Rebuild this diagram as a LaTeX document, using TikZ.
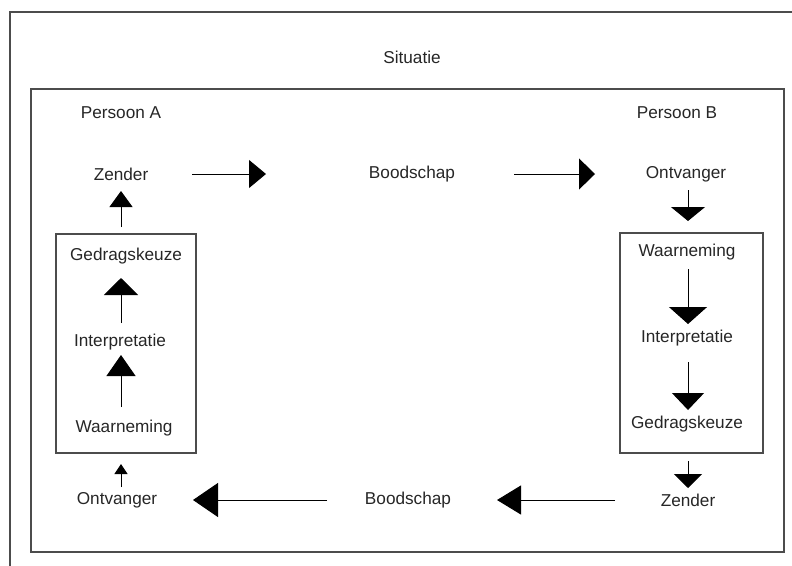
\documentclass[tikz,border=0pt]{standalone}
\usepackage{fontspec}
\setmainfont{Liberation Sans}
\usetikzlibrary{arrows.meta}
\tikzset{
  lbl/.style={inner sep=0pt, font=\fontsize{17.2}{19}\selectfont, text=black!85},
  kader/.style={draw=black!70, line width=1.4pt},
  pijl/.style args={#1/#2}{line width=1pt, -{Triangle[length=#1pt,width=#2pt]}}
}
\begin{document}
\begin{tikzpicture}[x=1pt,y=-1pt]
  \useasboundingbox (0,0) rectangle (792,565);
  \clip (0,0) rectangle (792,565);
  % kaders
  \draw[kader] (10,12) rectangle (800,575);
  \draw[kader] (31,89) rectangle (784,552);
  \draw[kader] (56,234) rectangle (196,453);
  \draw[kader] (620,233) rectangle (763,453);
  % teksten
  \node[lbl] (sit) at (412,57) {Situatie};
  \node[lbl] (pA) at (121,113) {Persoon A};
  \node[lbl] (pB) at (677,113) {Persoon B};
  \node[lbl] (zA) at (121,174) {Zender};
  \node[lbl] (bA) at (412,174) {Boodschap};
  \node[lbl] (oB) at (686,174) {Ontvanger};
  \node[lbl] (wB) at (687,252) {Waarneming};
  \node[lbl] (iB) at (687,338) {Interpretatie};
  \node[lbl] (gB) at (687,424) {Gedragskeuze};
  \node[lbl] (zB) at (688,500) {Zender};
  \node[lbl] (bB) at (408,500) {Boodschap};
  \node[lbl] (oA) at (117,500) {Ontvanger};
  \node[lbl] (wA) at (124,428) {Waarneming};
  \node[lbl] (iA) at (120,342) {Interpretatie};
  \node[lbl] (gA) at (126,256) {Gedragskeuze};
  % pijlen
  \draw[pijl=17/28, shorten <=71pt, shorten >=146pt] (zA.center) -- (bA.center);
  \draw[pijl=16/31, shorten <=102pt, shorten >=91pt] (bA.center) -- (oB.center);
  \draw[pijl=14/34, shorten <=16pt, shorten >=31pt] (oB.center -| zB.center) -- (wB.center -| zB.center);
  \draw[pijl=17/38, shorten <=17pt, shorten >=14pt] (wB.center -| zB.center) -- (iB.center -| zB.center);
  \draw[pijl=17/32, shorten <=24pt, shorten >=14pt] (iB.center -| zB.center) -- (gB.center -| zB.center);
  \draw[pijl=14/28, shorten <=37pt, shorten >=12pt] (gB.center -| zB.center) -- (zB.center);
  \draw[pijl=24/29, shorten <=73pt, shorten >=89pt] (zB.center) -- (bB.center);
  \draw[pijl=25/34, shorten <=81pt, shorten >=76pt] (bB.center) -- (oA.center);
  \draw[pijl=10/13, shorten <=13pt, shorten >=36pt] (oA.center -| zA.center) -- (wA.center -| zA.center);
  \draw[pijl=21/29, shorten <=21pt, shorten >=13pt] (wA.center -| zA.center) -- (iA.center -| zA.center);
  \draw[pijl=17/34, shorten <=19pt, shorten >=22pt] (iA.center -| zA.center) -- (gA.center -| zA.center);
  \draw[pijl=16/23, shorten <=29pt, shorten >=17pt] (gA.center -| zA.center) -- (zA.center);
\end{tikzpicture}
\end{document}
